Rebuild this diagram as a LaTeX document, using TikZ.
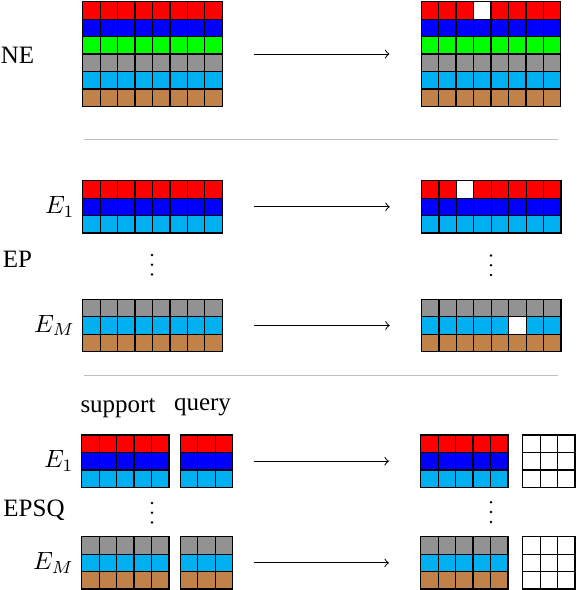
\documentclass[tikz,border=0pt]{standalone}
\usepackage{fontspec}
\setmainfont{Liberation Serif}
\usetikzlibrary{positioning}

\definecolor{cellgreen}{RGB}{0,255,0}
\definecolor{cellgray}{RGB}{146,146,146}
\definecolor{cellcyan}{RGB}{0,176,240}
\definecolor{cellbrown}{RGB}{192,130,72}

\begin{document}
\begin{tikzpicture}[x=0.4pt,y=-0.4pt]
               \tikzstyle{cell}=[draw=black, line width=0.5pt]
               \tikzstyle{gridbox}=[rectangle, inner sep=0pt, outer sep=0pt, anchor=north west]
               \tikzstyle{sep}=[draw=black!25, line width=0.4pt]
               \tikzstyle{map}=[->, shorten <=12.7pt, shorten >=12.7pt]
               \tikzstyle{lab}=[inner sep=0pt]
               \tikzstyle{dot}=[circle, fill=black, inner sep=0pt, minimum size=1.1pt]

               \useasboundingbox (0,0) rectangle (576,590);

               % grids: name/x/y/cols/rows/row colours
               \foreach \nm/\x/\y/\cols/\rows/\clrs in {
                  ne-in/82.7/1.7/8/6/{red,blue,cellgreen,cellgray,cellcyan,cellbrown},
                  ne-out/421.2/1.7/8/6/{red,blue,cellgreen,cellgray,cellcyan,cellbrown},
                  epa-in/82.7/180.7/8/3/{red,blue,cellcyan},
                  epa-out/421.5/180.7/8/3/{red,blue,cellcyan},
                  epm-in/82.7/299.3/8/3/{cellgray,cellcyan,cellbrown},
                  epm-out/421.5/299.3/8/3/{cellgray,cellcyan,cellbrown},
                  sqa-sup/81.7/435/5/3/{red,blue,cellcyan},
                  sqa-qry/180.3/435/3/3/{red,blue,cellcyan},
                  sqa-out/420.7/435/5/3/{red,blue,cellcyan},
                  sqa-res/522.7/435/3/3/{white,white,white},
                  sqm-sup/81.7/536.7/5/3/{cellgray,cellcyan,cellbrown},
                  sqm-qry/180.3/536.7/3/3/{cellgray,cellcyan,cellbrown},
                  sqm-out/420.7/536.7/5/3/{cellgray,cellcyan,cellbrown},
                  sqm-res/522.7/536.7/3/3/{white,white,white}}{
                  \node[gridbox, minimum width=\cols*6.98pt, minimum height=\rows*6.98pt] (\nm) at (\x,\y) {};
                  \foreach \clr [count=\r from 0] in \clrs
                     \foreach \c in {1,...,\cols}
                        \draw[cell, fill=\clr] (\x+\c*17.45-17.45, \y+\r*17.45) rectangle ++(17.45,17.45);
               }

               % dropped cells
               \draw[cell, fill=white] (ne-out.north west) ++(52.35,0) rectangle ++(17.45,17.45);
               \draw[cell, fill=white] (epa-out.north west) ++(34.9,0) rectangle ++(17.45,17.45);
               \draw[cell, fill=white] (epm-out.north west) ++(87.25,17.45) rectangle ++(17.45,17.45);

               % section labels
               \node (ne) at (17.5,55) {NE};
               \node (ep) at (17.5,259) {EP};
               \node (epsq) at (34,510) {EPSQ};
               \node (sup) at (118,408) {support};
               \node (qry) at (202.5,407) {query};

               \node[lab, left=3pt of epa-in] (epa-e) {$E_1$};
               \node[lab, left=3pt of epm-in] (epm-e) {$E_M$};
               \node[lab, left=3pt of sqa-sup] (sqa-e) {$E_1$};
               \node[lab, left=3pt of sqm-sup] (sqm-e) {$E_M$};

               % vertical dots
               \foreach \nm/\x/\y in {ep-l/152/255, ep-r/491/255.5, sq-l/152/503, sq-r/491/502.3}
                  \foreach \k in {0,1,2}
                     \node[dot] (\nm\k) at (\x,\y+\k*9.8) {};

               % maps
               \draw[map] (ne-in) -- (ne-out);
               \draw[map] (epa-in) -- (epa-out);
               \draw[map] (epm-in) -- (epm-out);
               \draw[map, shorten <=8.5pt] (sqa-qry) -- (sqa-out);
               \draw[map, shorten <=8.5pt] (sqm-qry) -- (sqm-out);

               % separators
               \draw[sep] (84,139.3) -- (558,139.3);
               \draw[sep] (84,376) -- (558,376);
            \end{tikzpicture}
\end{document}
